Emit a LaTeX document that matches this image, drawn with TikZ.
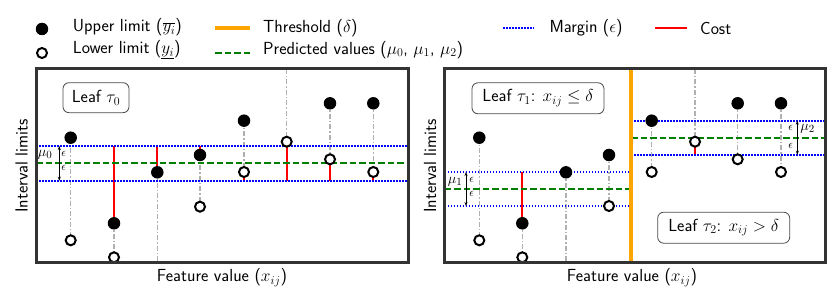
\documentclass[tikz,border=0pt]{standalone}
\usetikzlibrary{backgrounds,arrows.meta}
\definecolor{thrcol}{HTML}{FFA500}
\definecolor{predcol}{HTML}{008000}
\definecolor{linkcol}{HTML}{B0B0B0}
\begin{document}
\begin{tikzpicture}[x=1pt,y=-1pt,
  font=\sffamily\fontsize{17.5}{20}\selectfont,
  up/.style={circle,fill=black,inner sep=0pt,minimum size=12.5pt},
  lo/.style={circle,draw=black,fill=white,line width=2pt,inner sep=0pt,minimum size=10pt},
  link/.style={draw=linkcol,line width=1.5pt,dash pattern=on 5pt off 2pt on 1.5pt off 2pt},
  cost/.style={draw=red,line width=2pt},
  marg/.style={draw=blue,line width=2pt,dash pattern=on 1.8pt off 1.2pt},
  pred/.style={draw=predcol,line width=2pt,dash pattern=on 6.5pt off 3pt},
  framebox/.style={draw=black!80,line width=3pt},
  thr/.style={draw=thrcol,line width=3.6pt},
  leafbox/.style={draw=black!70,rounded corners=6pt,line width=0.8pt,fill=white,minimum height=30pt,inner sep=0pt},
  epsarr/.style={{Stealth[length=4pt,width=3pt]}-{Stealth[length=4pt,width=3pt]},line width=0.6pt},
  small/.style={font=\fontsize{12.5}{13}\selectfont,inner sep=0pt},
  mulab/.style={font=\fontsize{15.5}{16}\selectfont,inner sep=0pt}]
\useasboundingbox (0,0) rectangle (831,302);

% ---------- legend ----------
\node[up] (lgup) at (42,29) {};
\node[lo] (lglo) at (42,53) {};
\node[anchor=west] (lgupt) at (69.4,27.5) {Upper limit ($\overline{y_i}$)};
\node[anchor=west] (lglot) at (69.4,50) {Lower limit ($\underline{y_i}$)};
\coordinate (lgthrA) at (215,28); \coordinate (lgthrB) at (250,28);
\draw[thr] (lgthrA) -- (lgthrB);
\node[anchor=west] (lgthrt) at (259.7,28) {Threshold ($\delta$)};
\coordinate (lgprA) at (215,52.7); \coordinate (lgprB) at (250,52.7);
\draw[pred] (lgprA) -- (lgprB);
\node[anchor=west] (lgprt) at (259.7,50) {Predicted values ($\mu_0$, $\mu_1$, $\mu_2$)};
\coordinate (lgmA) at (503,28.3); \coordinate (lgmB) at (534,28.3);
\draw[marg] (lgmA) -- (lgmB);
\node[anchor=west] (lgmt) at (546,28) {Margin ($\epsilon$)};
\coordinate (lgcA) at (655,28); \coordinate (lgcB) at (687,28);
\draw[cost] (lgcA) -- (lgcB);
\node[anchor=west] (lgct) at (696.7,28) {Cost};

% ---------- left panel ----------
\coordinate (LFa) at (36,69); \coordinate (LFb) at (408,262.3);
% margins
\coordinate (LmuA) at (36,146); \coordinate (LmuB) at (408,146);
\coordinate (LmcA) at (36,163.3); \coordinate (LmcB) at (408,163.3);
\coordinate (LmlA) at (36,180.7); \coordinate (LmlB) at (408,180.7);
\draw[marg] (LmuA) -- (LmuB);
\draw[marg] (LmlA) -- (LmlB);
\draw[pred] (LmcA) -- (LmcB);

\node[up] (L1u) at (70.7,137.7) {};  \node[lo] (L1l) at (70.7,240.3) {};
\node[up] (L2u) at (114,223.3) {};   \node[lo] (L2l) at (114,257.3) {};
\node[up] (L3u) at (157.3,172.3) {}; \coordinate (L3l) at (157.3,262.3);
\node[up] (L4u) at (200,155) {};     \node[lo] (L4l) at (200,206.7) {};
\node[up] (L5u) at (244,120.7) {};   \node[lo] (L5l) at (244,172) {};
\coordinate (L6u) at (286.7,69);     \node[lo] (L6l) at (286.7,141.7) {};
\node[up] (L7u) at (330,103.3) {};   \node[lo] (L7l) at (330,159.3) {};
\node[up] (L8u) at (373.3,103.3) {}; \node[lo] (L8l) at (373.3,172) {};

\coordinate (L2c) at (114,146);
\coordinate (L3c) at (157.3,146);
\coordinate (L4c) at (200,146);
\coordinate (L5c) at (244,180.7);
\coordinate (L6c) at (286.7,180.7);
\coordinate (L7c) at (330,180.7);
\coordinate (L8c) at (373.3,180.7);

\begin{pgfonlayer}{background}
\foreach \i in {1,...,8} {\draw[link] (L\i u.center) -- (L\i l.center);}
\draw[cost] (L2c) -- (L2u.center);
\draw[cost] (L3c) -- (L3u.center);
\draw[cost] (L4c) -- (L4u.center);
\draw[cost] (L5l.center) -- (L5c);
\draw[cost] (L6l.center) -- (L6c);
\draw[cost] (L7l.center) -- (L7c);
\draw[cost] (L8l.center) -- (L8c);
\end{pgfonlayer}

% epsilon arrow left
\coordinate (LeA) at (59.3,146); \coordinate (LeB) at (59.3,180.7);
\draw[epsarr] (LeA) -- (LeB);
\node[mulab] (Lmu) at (45,155) {$\mu_0$};
\node[small] (Le1) at (63.8,153.5) {$\epsilon$};
\node[small] (Le2) at (63.8,168) {$\epsilon$};

\node[leafbox,minimum width=66pt] (leaf0) at (96,97.7) {Leaf $\tau_0$};

\draw[framebox] (LFa) rectangle (LFb);
\node (Lylab) at (21.5,166) [rotate=90] {Interval limits};
\node (Lxlab) at (222,277.5) {Feature value ($x_{ij}$)};

% ---------- right panel ----------
\coordinate (RFa) at (444.5,69); \coordinate (RFb) at (825.5,262.3);
\coordinate (Rthr) at (631,69); \coordinate (RthrB) at (631,262.3);
% leaf 1 margins
\coordinate (R1muA) at (444.5,172); \coordinate (R1muB) at (631,172);
\coordinate (R1mcA) at (444.5,188.7); \coordinate (R1mcB) at (631,188.7);
\coordinate (R1mlA) at (444.5,206); \coordinate (R1mlB) at (631,206);
\draw[marg] (R1muA) -- (R1muB);
\draw[marg] (R1mlA) -- (R1mlB);
\draw[pred] (R1mcA) -- (R1mcB);
% leaf 2 margins
\coordinate (R2muA) at (631,120.7); \coordinate (R2muB) at (825.5,120.7);
\coordinate (R2mcA) at (631,137.7); \coordinate (R2mcB) at (825.5,137.7);
\coordinate (R2mlA) at (631,154.7); \coordinate (R2mlB) at (825.5,154.7);
\draw[marg] (R2muA) -- (R2muB);
\draw[marg] (R2mlA) -- (R2mlB);
\draw[pred] (R2mcA) -- (R2mcB);

\node[up] (R1u) at (479.3,137.7) {};  \node[lo] (R1l) at (479.3,240.3) {};
\node[up] (R2u) at (522.3,223.3) {};  \node[lo] (R2l) at (522.3,257.3) {};
\node[up] (R3u) at (566,172.3) {};    \coordinate (R3l) at (566,262.3);
\node[up] (R4u) at (609,155) {};      \node[lo] (R4l) at (609,206) {};
\node[up] (R5u) at (651.7,120.7) {};  \node[lo] (R5l) at (651.7,172) {};
\coordinate (R6u) at (695,69);        \node[lo] (R6l) at (695,141.7) {};
\node[up] (R7u) at (737.7,103.3) {};  \node[lo] (R7l) at (737.7,159.3) {};
\node[up] (R8u) at (781,103.3) {};    \node[lo] (R8l) at (781,172) {};

\coordinate (R2c) at (522.3,172);
\coordinate (R6c) at (695,154.7);

\begin{pgfonlayer}{background}
\foreach \i in {1,...,8} {\draw[link] (R\i u.center) -- (R\i l.center);}
\draw[cost] (R2c) -- (R2u.center);
\draw[cost] (R6l.center) -- (R6c);
\end{pgfonlayer}

\draw[thr] (Rthr) -- (RthrB);

% epsilon arrows right
\coordinate (R1eA) at (466,172); \coordinate (R1eB) at (466,206);
\draw[epsarr] (R1eA) -- (R1eB);
\node[mulab] (Rmu1) at (455,181.5) {$\mu_1$};
\node[small] (R1e1) at (471.8,180) {$\epsilon$};
\node[small] (R1e2) at (471.8,193.5) {$\epsilon$};

\coordinate (R2eA) at (797.3,120.7); \coordinate (R2eB) at (797.3,154.7);
\draw[epsarr] (R2eA) -- (R2eB);
\node[mulab] (Rmu2) at (807.5,129) {$\mu_2$};
\node[small] (R2e1) at (790.8,128) {$\epsilon$};
\node[small] (R2e2) at (790.8,146) {$\epsilon$};

\node[leafbox,minimum width=132pt,minimum height=31pt] (leaf1) at (538,98.3) {Leaf $\tau_1$: $x_{ij} \leq \delta$};
\node[leafbox,minimum width=132pt,minimum height=31pt] (leaf2) at (723.7,227.7) {Leaf $\tau_2$: $x_{ij} > \delta$};

\draw[framebox] (RFa) rectangle (RFb);
\node (Rylab) at (430,166) [rotate=90] {Interval limits};
\node (Rxlab) at (632,277.5) {Feature value ($x_{ij}$)};
\end{tikzpicture}
\end{document}
